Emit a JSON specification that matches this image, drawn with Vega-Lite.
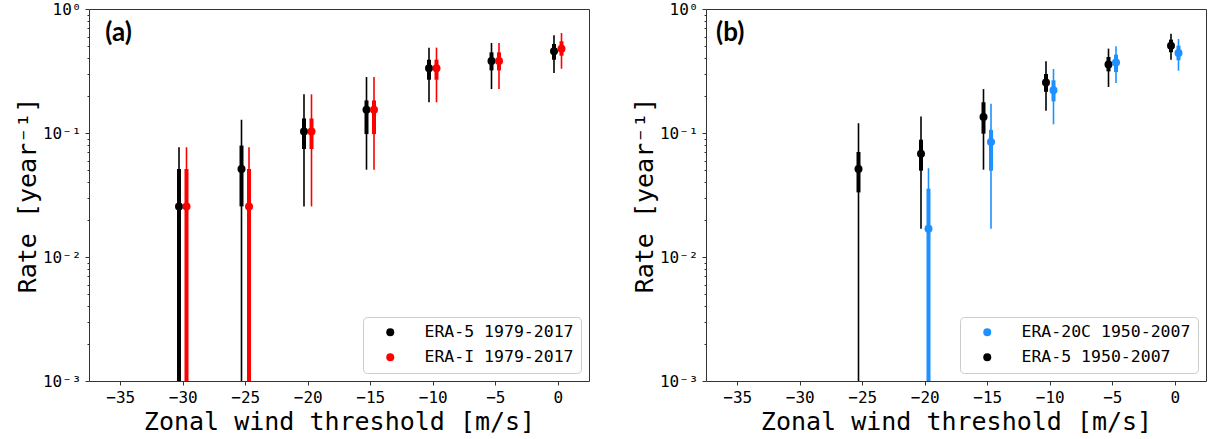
{
  "$schema": "https://vega.github.io/schema/vega-lite/v6.json",
  "background": "white",
  "padding": {"left": 14, "top": 0, "right": 0, "bottom": 0},
  "bounds": "flush",
  "spacing": 117,
  "config": {
    "view": {"stroke": "#333333", "strokeWidth": 1},
    "axis": {
      "domain": false, "grid": false,
      "labelFont": "DejaVu Sans Mono", "labelFontSize": 16, "labelColor": "black",
      "titleFont": "DejaVu Sans Mono", "titleFontSize": 25, "titleFontWeight": "normal", "titleColor": "black",
      "tickColor": "#333333", "tickSize": 4, "labelFlush": false, "labelOverlap": false
    },
    "legend": {
      "title": null, "orient": "bottom-right", "offset": 8, "padding": 7,
      "strokeColor": "#cccccc", "cornerRadius": 4, "fillColor": "white",
      "labelFont": "DejaVu Sans Mono", "labelFontSize": 16.5, "labelColor": "black", "labelLimit": 400,
      "symbolType": "circle", "symbolSize": 64, "symbolStrokeWidth": 0,
      "symbolOffset": 12, "labelOffset": 26, "rowPadding": 8
    }
  },
  "resolve": {"scale": {"color": "independent"}, "legend": {"color": "independent"}},
  "datasets": {
    "a": [
      {"s": "ERA-5 1979-2017", "x": -30.3, "rate": 0.0256, "lo66": 0.0001, "hi66": 0.0513, "lo95": 0.0001, "hi95": 0.0769},
      {"s": "ERA-5 1979-2017", "x": -25.3, "rate": 0.0513, "lo66": 0.0256, "hi66": 0.0792, "lo95": 0.0001, "hi95": 0.128},
      {"s": "ERA-5 1979-2017", "x": -20.3, "rate": 0.1026, "lo66": 0.0743, "hi66": 0.131, "lo95": 0.0256, "hi95": 0.205},
      {"s": "ERA-5 1979-2017", "x": -15.3, "rate": 0.154, "lo66": 0.098, "hi66": 0.183, "lo95": 0.0506, "hi95": 0.283},
      {"s": "ERA-5 1979-2017", "x": -10.3, "rate": 0.333, "lo66": 0.269, "hi66": 0.39, "lo95": 0.177, "hi95": 0.488},
      {"s": "ERA-5 1979-2017", "x": -5.3, "rate": 0.38, "lo66": 0.32, "hi66": 0.447, "lo95": 0.226, "hi95": 0.532},
      {"s": "ERA-5 1979-2017", "x": -0.3, "rate": 0.456, "lo66": 0.39, "hi66": 0.522, "lo95": 0.305, "hi95": 0.614},
      {"s": "ERA-I 1979-2017", "x": -29.7, "rate": 0.0256, "lo66": 0.0001, "hi66": 0.0513, "lo95": 0.0001, "hi95": 0.0769},
      {"s": "ERA-I 1979-2017", "x": -24.7, "rate": 0.0256, "lo66": 0.0001, "hi66": 0.0513, "lo95": 0.0001, "hi95": 0.0769},
      {"s": "ERA-I 1979-2017", "x": -19.7, "rate": 0.1026, "lo66": 0.0743, "hi66": 0.131, "lo95": 0.0256, "hi95": 0.205},
      {"s": "ERA-I 1979-2017", "x": -14.7, "rate": 0.154, "lo66": 0.098, "hi66": 0.183, "lo95": 0.0506, "hi95": 0.283},
      {"s": "ERA-I 1979-2017", "x": -9.7, "rate": 0.333, "lo66": 0.269, "hi66": 0.39, "lo95": 0.177, "hi95": 0.488},
      {"s": "ERA-I 1979-2017", "x": -4.7, "rate": 0.38, "lo66": 0.32, "hi66": 0.447, "lo95": 0.226, "hi95": 0.532},
      {"s": "ERA-I 1979-2017", "x": 0.3, "rate": 0.479, "lo66": 0.42, "hi66": 0.549, "lo95": 0.33, "hi95": 0.64}
    ],
    "b": [
      {"s": "ERA-5 1950-2007", "x": -25.3, "rate": 0.0513, "lo66": 0.0332, "hi66": 0.0703, "lo95": 0.0001, "hi95": 0.12},
      {"s": "ERA-5 1950-2007", "x": -20.3, "rate": 0.068, "lo66": 0.0497, "hi66": 0.0883, "lo95": 0.0169, "hi95": 0.136},
      {"s": "ERA-5 1950-2007", "x": -15.3, "rate": 0.1346, "lo66": 0.0988, "hi66": 0.177, "lo95": 0.0506, "hi95": 0.226},
      {"s": "ERA-5 1950-2007", "x": -10.3, "rate": 0.256, "lo66": 0.215, "hi66": 0.299, "lo95": 0.151, "hi95": 0.379},
      {"s": "ERA-5 1950-2007", "x": -5.3, "rate": 0.356, "lo66": 0.314, "hi66": 0.41, "lo95": 0.235, "hi95": 0.479},
      {"s": "ERA-5 1950-2007", "x": -0.3, "rate": 0.506, "lo66": 0.448, "hi66": 0.566, "lo95": 0.39, "hi95": 0.632},
      {"s": "ERA-20C 1950-2007", "x": -19.7, "rate": 0.0169, "lo66": 0.0001, "hi66": 0.0355, "lo95": 0.0001, "hi95": 0.052},
      {"s": "ERA-20C 1950-2007", "x": -14.7, "rate": 0.0846, "lo66": 0.0497, "hi66": 0.106, "lo95": 0.0169, "hi95": 0.172},
      {"s": "ERA-20C 1950-2007", "x": -9.7, "rate": 0.221, "lo66": 0.18, "hi66": 0.266, "lo95": 0.1175, "hi95": 0.328},
      {"s": "ERA-20C 1950-2007", "x": -4.7, "rate": 0.371, "lo66": 0.31, "hi66": 0.428, "lo95": 0.253, "hi95": 0.5},
      {"s": "ERA-20C 1950-2007", "x": 0.3, "rate": 0.442, "lo66": 0.386, "hi66": 0.506, "lo95": 0.318, "hi95": 0.573}
    ]
  },
  "hconcat": [
    {
      "width": 500, "height": 372,
      "data": {"name": "a"},
      "encoding": {
        "x": {"field": "x", "type": "quantitative", "title": "Zonal wind threshold [m/s]",
              "scale": {"domain": [-37.5, 2.5], "nice": false, "zero": false},
              "axis": {"values": [-35, -30, -25, -20, -15, -10, -5, 0], "labelPadding": 4, "titlePadding": 4}}
      },
      "layer": [
        {
          "mark": {"type": "point", "filled": true, "size": 64, "opacity": 1, "clip": true},
          "encoding": {
            "y": {"field": "rate", "type": "quantitative", "title": "Rate [year⁻¹]",
                  "scale": {"type": "log", "domain": [0.001, 1], "nice": false},
                  "axis": {
                    "values": [0.001, 0.002, 0.003, 0.004, 0.005, 0.006, 0.007, 0.008, 0.009, 0.01, 0.02, 0.03, 0.04, 0.05, 0.06, 0.07, 0.08, 0.09, 0.1, 0.2, 0.3, 0.4, 0.5, 0.6, 0.7, 0.8, 0.9, 1],
                    "labelExpr": "abs(log(datum.value)/LN10 - round(log(datum.value)/LN10)) < 0.001 ? (round(log(datum.value)/LN10) == 0 ? '10⁰' : round(log(datum.value)/LN10) == -1 ? '10⁻¹' : round(log(datum.value)/LN10) == -2 ? '10⁻²' : '10⁻³') : ''",
                    "tickSize": {"condition": {"test": "abs(log(datum.value)/LN10 - round(log(datum.value)/LN10)) < 0.001", "value": 4}, "value": 2},
                    "labelPadding": 4, "titlePadding": 2
                  }},
            "color": {"field": "s", "type": "nominal",
                      "scale": {"domain": ["ERA-5 1979-2017", "ERA-I 1979-2017"], "range": ["#000000", "#ff0000"]}}
          }
        },
        {
          "mark": {"type": "rule", "strokeWidth": 1.6, "clip": true},
          "encoding": {
            "y": {"field": "lo95", "type": "quantitative", "title": "Rate [year⁻¹]"},
            "y2": {"field": "hi95"},
            "color": {"field": "s", "type": "nominal"}
          }
        },
        {
          "mark": {"type": "rule", "strokeWidth": 4, "clip": true},
          "encoding": {
            "y": {"field": "lo66", "type": "quantitative", "title": "Rate [year⁻¹]"},
            "y2": {"field": "hi66"},
            "color": {"field": "s", "type": "nominal"}
          }
        },
        {
          "data": {"values": [{"lab": "(a)", "x": -36.2, "rate": 0.646}]},
          "mark": {"type": "text", "font": "Lato", "fontWeight": "bold", "fontSize": 26, "align": "left", "baseline": "middle", "color": "black"},
          "encoding": {
            "y": {"field": "rate", "type": "quantitative", "title": "Rate [year⁻¹]"},
            "text": {"field": "lab"}
          }
        }
      ]
    },
    {
      "width": 500, "height": 372,
      "data": {"name": "b"},
      "encoding": {
        "x": {"field": "x", "type": "quantitative", "title": "Zonal wind threshold [m/s]",
              "scale": {"domain": [-37.5, 2.5], "nice": false, "zero": false},
              "axis": {"values": [-35, -30, -25, -20, -15, -10, -5, 0], "labelPadding": 4, "titlePadding": 4}}
      },
      "layer": [
        {
          "mark": {"type": "point", "filled": true, "size": 64, "opacity": 1, "clip": true},
          "encoding": {
            "y": {"field": "rate", "type": "quantitative", "title": "Rate [year⁻¹]",
                  "scale": {"type": "log", "domain": [0.001, 1], "nice": false},
                  "axis": {
                    "values": [0.001, 0.002, 0.003, 0.004, 0.005, 0.006, 0.007, 0.008, 0.009, 0.01, 0.02, 0.03, 0.04, 0.05, 0.06, 0.07, 0.08, 0.09, 0.1, 0.2, 0.3, 0.4, 0.5, 0.6, 0.7, 0.8, 0.9, 1],
                    "labelExpr": "abs(log(datum.value)/LN10 - round(log(datum.value)/LN10)) < 0.001 ? (round(log(datum.value)/LN10) == 0 ? '10⁰' : round(log(datum.value)/LN10) == -1 ? '10⁻¹' : round(log(datum.value)/LN10) == -2 ? '10⁻²' : '10⁻³') : ''",
                    "tickSize": {"condition": {"test": "abs(log(datum.value)/LN10 - round(log(datum.value)/LN10)) < 0.001", "value": 4}, "value": 2},
                    "labelPadding": 4, "titlePadding": 2
                  }},
            "color": {"field": "s", "type": "nominal",
                      "scale": {"domain": ["ERA-20C 1950-2007", "ERA-5 1950-2007"], "range": ["#1e90ff", "#000000"]}}
          }
        },
        {
          "mark": {"type": "rule", "strokeWidth": 1.6, "clip": true},
          "encoding": {
            "y": {"field": "lo95", "type": "quantitative", "title": "Rate [year⁻¹]"},
            "y2": {"field": "hi95"},
            "color": {"field": "s", "type": "nominal"}
          }
        },
        {
          "mark": {"type": "rule", "strokeWidth": 4, "clip": true},
          "encoding": {
            "y": {"field": "lo66", "type": "quantitative", "title": "Rate [year⁻¹]"},
            "y2": {"field": "hi66"},
            "color": {"field": "s", "type": "nominal"}
          }
        },
        {
          "data": {"values": [{"lab": "(b)", "x": -36.7, "rate": 0.646}]},
          "mark": {"type": "text", "font": "Lato", "fontWeight": "bold", "fontSize": 26, "align": "left", "baseline": "middle", "color": "black"},
          "encoding": {
            "y": {"field": "rate", "type": "quantitative", "title": "Rate [year⁻¹]"},
            "text": {"field": "lab"}
          }
        }
      ]
    }
  ]
}
